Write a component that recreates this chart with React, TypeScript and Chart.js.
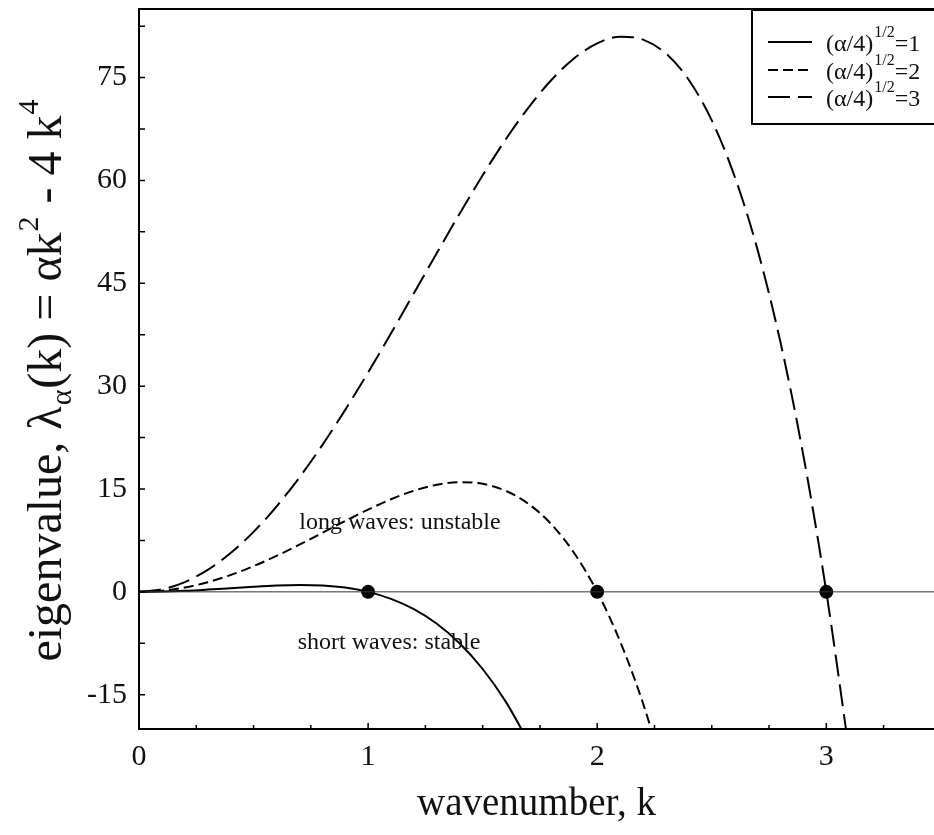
import React, { useEffect, useRef } from "react";
import { Chart, registerables } from "chart.js";

Chart.register(...registerables);

// ---- data ----
const kValues1 = [0, 0.1, 0.2, 0.3, 0.4, 0.5, 0.6, 0.7, 0.8, 0.9, 1.0, 1.1, 1.2, 1.3, 1.4, 1.5, 1.6, 1.7];
const lambda1 = [0, 0.04, 0.15, 0.33, 0.54, 0.75, 0.92, 1.0, 0.92, 0.62, 0, -1.02, -2.53, -4.66, -7.53, -11.25, -15.97, -21.85];

const kValues2 = [0, 0.1, 0.2, 0.3, 0.4, 0.5, 0.6, 0.7, 0.8, 0.9, 1.0, 1.1, 1.2, 1.3, 1.4, 1.5, 1.6, 1.7, 1.8, 1.9, 2.0, 2.1, 2.2, 2.3];
const lambda2 = [0, 0.16, 0.63, 1.41, 2.46, 3.75, 5.24, 6.88, 8.6, 10.34, 12.0, 13.5, 14.75, 15.62, 15.99, 15.75, 14.75, 12.83, 9.85, 5.63, 0, -7.23, -16.26, -27.29];

const kValues3 = [0, 0.1, 0.2, 0.3, 0.4, 0.5, 0.6, 0.7, 0.8, 0.9, 1.0, 1.1, 1.2, 1.3, 1.4, 1.5, 1.6, 1.7, 1.8, 1.9, 2.0, 2.1, 2.2, 2.3, 2.4, 2.5, 2.6, 2.7, 2.8, 2.9, 3.0, 3.1];
const lambda3 = [0, 0.36, 1.43, 3.21, 5.66, 8.75, 12.44, 16.68, 21.4, 26.54, 32.0, 37.7, 43.55, 49.42, 55.19, 60.75, 65.95, 70.63, 74.65, 77.83, 80.0, 80.97, 80.54, 78.51, 74.65, 68.75, 60.57, 49.87, 36.38, 19.85, 0, -23.39];

const rootK = [1, 2, 3];
const rootLambda = [0, 0, 0];

const zeroLineK = [0, 3.47];
const zeroLineLambda = [0, 0];

const legendValues = ["1", "2", "3"];
const xTickValues = [0, 1, 2, 3];
const yTickValues = [-15, 0, 15, 30, 45, 60, 75];
const annotationTexts = ["long waves: unstable", "short waves: stable"];

const xAxisTitle = "wavenumber, k";

const SERIF = '"Liberation Serif", "Times New Roman", "DejaVu Serif", serif';
const INK = "#111";

const dashes: number[][] = [[], [10, 5], [22, 8]];

function toPoints(xs: number[], ys: number[]) {
  return xs.map((x, i) => ({ x, y: ys[i] }));
}

const decorPlugin = {
  id: "decor",
  afterDraw(chart: any) {
    const { ctx, chartArea: a, scales } = chart;
    const xs = scales.x;
    const ys = scales.y;
    ctx.save();
    // frame (left, bottom, top)
    ctx.strokeStyle = "#000";
    ctx.lineWidth = 2;
    ctx.setLineDash([]);
    ctx.beginPath();
    ctx.moveTo(a.right + 2, a.top);
    ctx.lineTo(a.left, a.top);
    ctx.lineTo(a.left, a.bottom);
    ctx.lineTo(a.right + 2, a.bottom);
    ctx.stroke();

    // inward tick marks
    ctx.lineWidth = 1.5;
    ctx.beginPath();
    for (let v = -15; v <= 82.5 + 1e-6; v += 7.5) {
      const py = ys.getPixelForValue(v);
      ctx.moveTo(a.left, py);
      ctx.lineTo(a.left + 6, py);
    }
    for (let v = 0.25; v < xs.max; v += 0.25) {
      const px = xs.getPixelForValue(v);
      const major = Math.abs(v - Math.round(v)) < 1e-6;
      ctx.moveTo(px, a.bottom);
      ctx.lineTo(px, a.bottom - (major ? 6 : 4));
    }
    ctx.stroke();

    // annotations
    ctx.fillStyle = INK;
    ctx.font = `24px ${SERIF}`;
    ctx.textBaseline = "alphabetic";
    ctx.textAlign = "left";
    ctx.fillText(annotationTexts[0], xs.getPixelForValue(0.7), ys.getPixelForValue(9.2));
    ctx.fillText(annotationTexts[1], xs.getPixelForValue(0.693), ys.getPixelForValue(-8.3));

    // legend box
    const bx = 752;
    const by = a.top + 1;
    const bw = 240;
    const bh = 114;
    ctx.fillStyle = "#fff";
    ctx.fillRect(bx, by, bw, bh);
    ctx.strokeStyle = "#000";
    ctx.lineWidth = 2;
    ctx.strokeRect(bx, by, bw, bh);
    const rows = [42, 70, 97];
    rows.forEach((ry, i) => {
      ctx.setLineDash(dashes[i]);
      ctx.lineWidth = 2;
      ctx.beginPath();
      ctx.moveTo(768, ry);
      ctx.lineTo(812, ry);
      ctx.stroke();
      ctx.setLineDash([]);
      ctx.fillStyle = INK;
      let tx = 826;
      const base = ry + 9;
      ctx.font = `24px ${SERIF}`;
      const t1 = "(\u03B1/4)";
      ctx.fillText(t1, tx, base);
      tx += ctx.measureText(t1).width;
      ctx.font = `16px ${SERIF}`;
      const t2 = "1/2";
      ctx.fillText(t2, tx + 1, base - 14);
      tx += ctx.measureText(t2).width + 1;
      ctx.font = `24px ${SERIF}`;
      ctx.fillText("=" + legendValues[i], tx, base);
    });

    // rotated y-axis title with sub/superscripts
    const fs = 48;
    const segs: { t: string; s: number; dy: number }[] = [
      { t: "eigenvalue, \u03BB", s: 1, dy: 0 },
      { t: "\u03B1", s: 0.62, dy: 0.2 },
      { t: "(k) = \u03B1k", s: 1, dy: 0 },
      { t: "2", s: 0.62, dy: -0.48 },
      { t: " - 4 k", s: 1, dy: 0 },
      { t: "4", s: 0.62, dy: -0.48 },
    ];
    let total = 0;
    segs.forEach((sg) => {
      ctx.font = `${Math.round(fs * sg.s)}px ${SERIF}`;
      total += ctx.measureText(sg.t).width + (sg.s < 1 ? 2 : 0);
    });
    ctx.translate(61, 380);
    ctx.rotate(-Math.PI / 2);
    let cx = -total / 2;
    segs.forEach((sg) => {
      ctx.font = `${Math.round(fs * sg.s)}px ${SERIF}`;
      ctx.fillText(sg.t, cx + (sg.s < 1 ? 1 : 0), sg.dy * fs);
      cx += ctx.measureText(sg.t).width + (sg.s < 1 ? 2 : 0);
    });
    ctx.restore();
  },
};

export default function App() {
  const canvasRef = useRef<HTMLCanvasElement | null>(null);

  useEffect(() => {
    document.body.style.margin = "0";
    document.body.style.overflow = "hidden";
    const canvas = canvasRef.current;
    if (!canvas) return;

    const lineStyle = (i: number) => ({
      showLine: true,
      borderColor: "#000",
      borderWidth: 2,
      borderDash: dashes[i],
      pointRadius: 0,
      cubicInterpolationMode: "monotone" as const,
      clip: 0,
      fill: false,
    });

    const chart = new Chart(canvas, {
      type: "scatter",
      data: {
        datasets: [
          { label: "zero", data: toPoints(zeroLineK, zeroLineLambda), showLine: true, borderColor: "#333", borderWidth: 1, pointRadius: 0, clip: 0 } as any,
          { label: "(α/4)^1/2=1", data: toPoints(kValues1, lambda1), ...lineStyle(0) } as any,
          { label: "(α/4)^1/2=2", data: toPoints(kValues2, lambda2), ...lineStyle(1) } as any,
          { label: "(α/4)^1/2=3", data: toPoints(kValues3, lambda3), ...lineStyle(2) } as any,
          { label: "roots", data: toPoints(rootK, rootLambda), showLine: false, pointRadius: 7, pointBackgroundColor: "#000", pointBorderColor: "#000", pointBorderWidth: 0, clip: 8 } as any,
        ],
      },
      options: {
        animation: false,
        responsive: false,
        maintainAspectRatio: false,
        layout: { autoPadding: false, padding: { top: 9, right: 0, bottom: 3, left: 0 } },
        plugins: { legend: { display: false }, tooltip: { enabled: false } },
        events: [],
        scales: {
          x: {
            type: "linear",
            min: 0,
            max: 3.47,
            afterBuildTicks: (s: any) => {
              s.ticks = xTickValues.map((v) => ({ value: v }));
            },
            afterFit: (s: any) => {
              s.height = 103;
              s.paddingLeft = 0;
              s.paddingRight = 0;
            },
            grid: { display: false, drawTicks: false },
            border: { display: false },
            ticks: {
              color: INK,
              font: { family: SERIF, size: 30 },
              padding: 10,
              maxRotation: 0,
              autoSkip: false,
              callback: (v: any) => String(v),
            },
            title: { display: true, text: xAxisTitle, color: INK, font: { family: SERIF, size: 39 } },
          },
          y: {
            type: "linear",
            min: -20,
            max: 85,
            afterBuildTicks: (s: any) => {
              s.ticks = yTickValues.map((v) => ({ value: v }));
            },
            afterFit: (s: any) => {
              s.width = 139;
              s.paddingTop = 0;
              s.paddingBottom = 0;
            },
            grid: { display: false, drawTicks: false },
            border: { display: false },
            ticks: {
              color: INK,
              font: { family: SERIF, size: 30 },
              padding: 12,
              autoSkip: false,
              callback: (v: any) => String(v),
            },
          },
        },
      },
      plugins: [decorPlugin],
    } as any);

    return () => chart.destroy();
  }, []);

  return (
    <div style={{ width: 934, height: 835, position: "relative", background: "#fff" }}>
      <canvas ref={canvasRef} width={934} height={835} style={{ display: "block", width: 934, height: 835 }} />
    </div>
  );
}
